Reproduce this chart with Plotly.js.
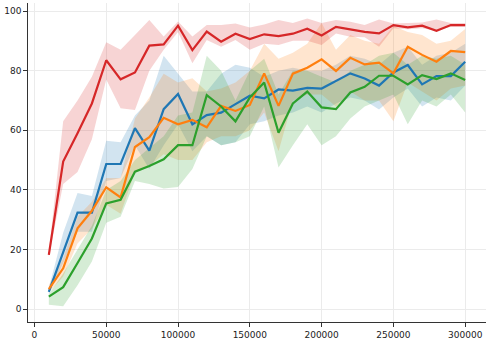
<!DOCTYPE html>
<html>
<head>
<meta charset="utf-8">
<script src="https://cdn.plot.ly/plotly-3.0.1.min.js"></script>
<style>html,body{margin:0;padding:0;background:#fff;}#chart{width:489px;height:341px;}</style>
</head>
<body>
<div id="chart"></div>
<script>
const steps = [10000,20000,30000,40000,50000,60000,70000,80000,90000,100000,110000,120000,130000,140000,150000,160000,170000,180000,190000,200000,210000,220000,230000,240000,250000,260000,270000,280000,290000,300000];

const blueMean  = [5.8,19,32.4,32.4,48.7,48.7,60.7,53.2,67.1,72.2,62,65.1,65.9,68.8,71.6,70.7,73.7,73.3,74.2,74,76.6,79.1,77.4,75,79.4,81.9,75.4,78.2,78.2,83];
const blueLow   = [5,15.5,26,26,43,44,55,47,55,62,53,58,55,56,62,63,65,66,68,66,69,71,70,67,71,74,68,71,70,75];
const blueHigh  = [7,25.6,39,38,56.5,56,65,70,85,79,73,73,79,82,81,78,80,81,80,80,82,85,84,82,86,88,82,85,86,89];

const orangeMean = [6.7,13.7,27.1,33,40.9,37.5,54.4,57.7,64.2,62,63.5,61,68.2,66.5,68.5,79.1,68.2,79,81,83.8,79.9,84.3,82.1,82.7,79.1,88,85.3,83,86.6,86.2];
const orangeLow  = [5.5,11,22,27,35,32,46,48,52,50,50,56,58,58,60,66,53,70,72,72,68,73,70,70,63,76,73,70,74,75];
const orangeHigh = [8,17,31,36,44,44,64,71,79,76,77.5,73,74,76,80,89,84,86,89,96,87,92,90,89,95,93,92,89,90,94];

const greenMean = [4.2,7.4,15.5,23.7,35.5,36.7,46.1,48,50.3,55,55,71.8,68,63,71,76,59.2,69,73,67.7,67.1,72.7,74.6,78.3,78.3,75.4,78.5,77.2,79.1,76.9];
const greenLow  = [1.5,1,8,16,29,31,43,42,40.5,41,47,58,55,56,58,68,47.5,55,62,55,58,64,68,70,72,62,70,68,72,66];
const greenHigh = [5,12,20,28,40,43,50,54,58,65,66,85,80,70,80,84,72,80,80,78,76,80,82,85,86,82,85,84,85,82];

const redMean = [18.2,49.5,59,69,83.5,77.1,79.4,88.4,88.8,95.1,86.9,93.1,89.7,92.4,90.6,92.2,91.6,92.4,94.1,91.8,94.7,93.9,93,92.5,95.3,94.5,95.1,93.4,95.3,95.3];
const redLow  = [17.5,42,46,57,77,67.4,66.8,80,87,93,82.5,90.3,88,90.3,87,89,88.6,90,90,88.6,92.5,91.4,91.2,88,94.2,93.9,94.2,93.4,94.7,94.7];
const redHigh = [19,63,70,78,89.5,87,92,97,91.5,96.5,91.5,95.3,95.3,95.8,94.5,95.5,97,96,97.5,96,97,96.4,95.3,97.2,95.8,96,96.2,97.2,96,96];

const seriesList = [
  {mean: blueMean, low: blueLow, high: blueHigh, color: '#1f77b4', fill: 'rgba(31,119,180,0.2)'},
  {mean: orangeMean, low: orangeLow, high: orangeHigh, color: '#ff7f0e', fill: 'rgba(255,127,14,0.2)'},
  {mean: greenMean, low: greenLow, high: greenHigh, color: '#2ca02c', fill: 'rgba(44,160,44,0.2)'},
  {mean: redMean, low: redLow, high: redHigh, color: '#d62728', fill: 'rgba(214,39,40,0.2)'}
];

const traces = [];
seriesList.forEach(s => {
  traces.push({
    x: steps.concat(steps.slice().reverse()),
    y: s.high.concat(s.low.slice().reverse()),
    type: 'scatter', mode: 'lines', fill: 'toself', fillcolor: s.fill,
    line: {width: 0, color: s.fill}, hoverinfo: 'skip', showlegend: false
  });
});
seriesList.forEach(s => {
  traces.push({
    x: steps, y: s.mean, type: 'scatter', mode: 'lines',
    line: {color: s.color, width: 2.2}, showlegend: false
  });
});

const axisCommon = {
  showgrid: true, gridcolor: '#ebebeb', gridwidth: 1,
  zeroline: false, showline: true, linecolor: '#333', linewidth: 1.3,
  ticks: 'outside', ticklen: 3.5, tickwidth: 1, tickcolor: '#333',
  tickfont: {family: 'DejaVu Sans', size: 9, color: '#222'}
};

const layout = {
  width: 489, height: 341,
  margin: {l: 28, r: 3, t: 3, b: 19},
  paper_bgcolor: '#fff', plot_bgcolor: '#fff',
  showlegend: false,
  xaxis: Object.assign({}, axisCommon, {range: [-4500, 314500], tickmode: 'linear', tick0: 0, dtick: 50000, tickformat: 'd'}),
  yaxis: Object.assign({}, axisCommon, {range: [-4.3, 102.7], tickmode: 'linear', tick0: 0, dtick: 20})
};

Plotly.newPlot('chart', traces, layout, {staticPlot: true, displayModeBar: false});
</script>
</body>
</html>
